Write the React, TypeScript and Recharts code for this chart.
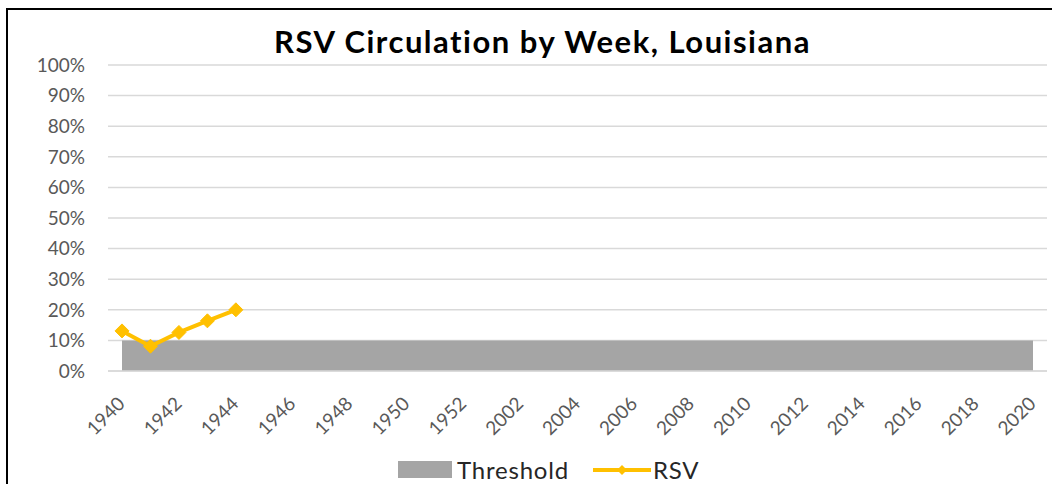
import React from "react";
import {
  ComposedChart,
  Area,
  Line,
  XAxis,
  YAxis,
  CartesianGrid,
} from "recharts";

// week labels (YYWW)
const weeks = [
  "1940", "1941", "1942", "1943", "1944", "1945", "1946", "1947", "1948",
  "1949", "1950", "1951", "1952", "2001", "2002", "2003", "2004", "2005",
  "2006", "2007", "2008", "2009", "2010", "2011", "2012", "2013", "2014",
  "2015", "2016", "2017", "2018", "2019", "2020",
];

const threshold = [
  0.1, 0.1, 0.1, 0.1, 0.1, 0.1, 0.1, 0.1, 0.1, 0.1, 0.1, 0.1, 0.1, 0.1,
  0.1, 0.1, 0.1, 0.1, 0.1, 0.1, 0.1, 0.1, 0.1, 0.1, 0.1, 0.1, 0.1, 0.1,
  0.1, 0.1, 0.1, 0.1, 0.1,
];

// only the first weeks have been reported so far
const rsv = [0.131, 0.081, 0.126, 0.164, 0.2];

const yTicks = [0, 0.1, 0.2, 0.3, 0.4, 0.5, 0.6, 0.7, 0.8, 0.9, 1];

const data = weeks.map((week, i) => ({
  week,
  threshold: threshold[i],
  rsv: i < rsv.length ? rsv[i] : null,
}));

const FONT = "Lato, 'Open Sans', sans-serif";
const GOLD = "#FFC000";
const GREY = "#A5A5A5";

const Diamond = (props: any) => {
  const { cx, cy } = props;
  if (cx == null || cy == null || props.value == null) return <g />;
  const r = 7;
  return (
    <path
      d={`M${cx},${cy - r}L${cx + r},${cy}L${cx},${cy + r}L${cx - r},${cy}Z`}
      fill={GOLD}
      stroke={GOLD}
    />
  );
};

const WeekTick = (props: any) => {
  const { x, y, payload } = props;
  return (
    <g transform={`translate(${x + 4},${y + 26})`}>
      <text
        transform="rotate(-45)"
        textAnchor="end"
        fill="#595959"
        fontSize={19}
        fontFamily={FONT}
      >
        {payload.value}
      </text>
    </g>
  );
};

export default function App() {
  return (
    <div
      style={{
        position: "absolute",
        left: 0,
        top: 0,
        width: 1052,
        height: 484,
        background: "#fff",
        overflow: "hidden",
        fontFamily: FONT,
      }}
    >
      {/* frame: only top and left edges are visible */}
      <div
        style={{
          position: "absolute",
          left: 6,
          top: 8,
          width: 1060,
          height: 500,
          borderTop: "2px solid #000",
          borderLeft: "2px solid #000",
        }}
      />

      <div
        style={{
          position: "absolute",
          left: 0,
          top: 22,
          width: 1085,
          textAlign: "center",
          fontSize: 31,
          fontWeight: 700,
          letterSpacing: 1.5,
          color: "#000",
        }}
      >
        RSV Circulation by Week, Louisiana
      </div>

      <div style={{ position: "absolute", left: 0, top: 0 }}>
        <ComposedChart
          width={1052}
          height={484}
          data={data}
          margin={{ top: 65, right: 5, left: 8, bottom: 0 }}
        >
          <CartesianGrid vertical={false} stroke="#D9D9D9" strokeWidth={1.5} />
          <XAxis
            dataKey="week"
            interval={1}
            padding={{ left: 14, right: 14 }}
            axisLine={{ stroke: "#D9D9D9", strokeWidth: 1.5 }}
            tickLine={false}
            tick={<WeekTick />}
            height={113}
          />
          <YAxis
            domain={[0, 1]}
            ticks={yTicks}
            interval={0}
            width={100}
            axisLine={false}
            tickLine={false}
            tickMargin={17}
            tickFormatter={(v: number) => `${Math.round(v * 100)}%`}
            tick={{ fill: "#595959", fontSize: 19, fontFamily: FONT }}
          />
          <Area
            dataKey="threshold"
            type="linear"
            fill={GREY}
            fillOpacity={1}
            stroke="none"
            isAnimationActive={false}
          />
          <Line
            dataKey="rsv"
            type="linear"
            stroke={GOLD}
            strokeWidth={4}
            dot={<Diamond />}
            activeDot={false}
            isAnimationActive={false}
          />
        </ComposedChart>
      </div>

      {/* legend */}
      <div
        style={{
          position: "absolute",
          left: 398,
          top: 455,
          display: "flex",
          alignItems: "center",
          fontSize: 24,
          letterSpacing: 0.8,
          color: "#262626",
          whiteSpace: "nowrap",
        }}
      >
        <span
          style={{
            display: "inline-block",
            width: 54,
            height: 17,
            background: GREY,
            marginRight: 5,
          }}
        />
        <span style={{ marginRight: 24 }}>Threshold</span>
        <svg width={58} height={14} style={{ marginRight: 2 }}>
          <line x1={0} y1={7} x2={58} y2={7} stroke={GOLD} strokeWidth={4} />
          <path d="M29,2L34,7L29,12L24,7Z" fill={GOLD} />
        </svg>
        <span>RSV</span>
      </div>
    </div>
  );
}
